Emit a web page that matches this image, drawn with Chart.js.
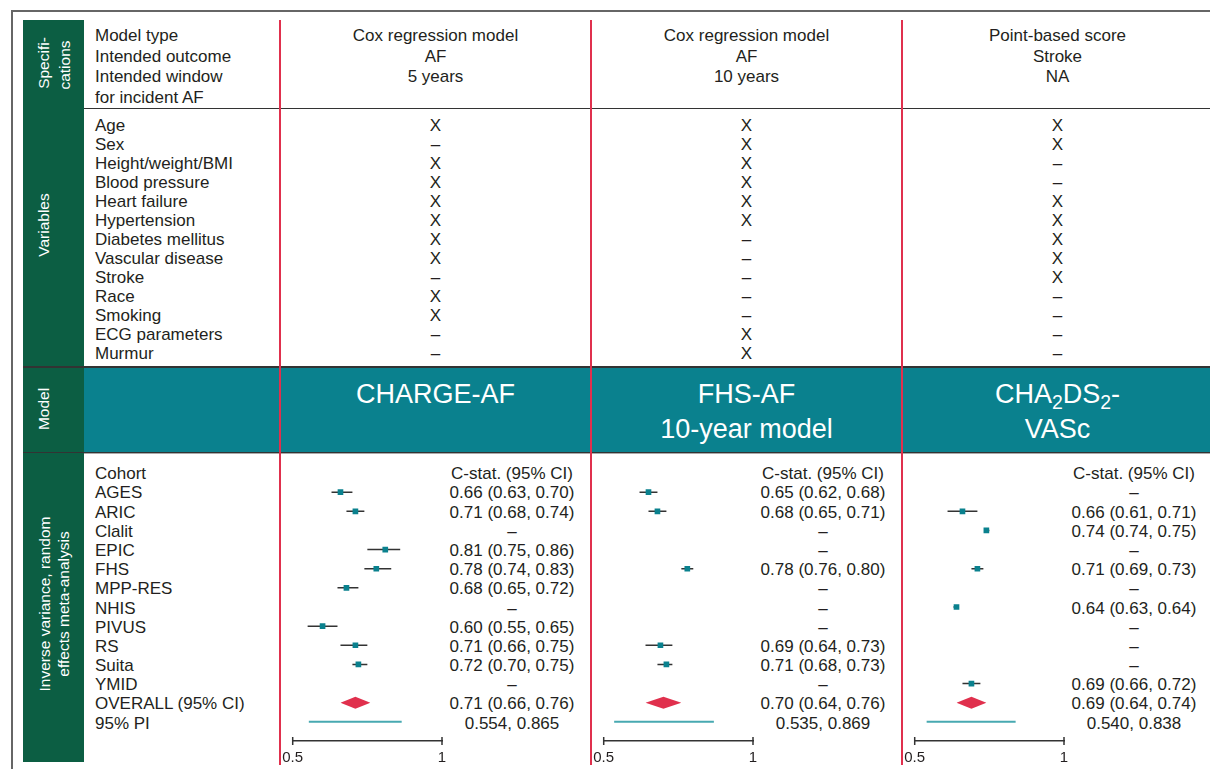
<!DOCTYPE html>
<html>
<head>
<meta charset="utf-8">
<script src="https://cdn.jsdelivr.net/npm/chart.js@4.4.1/dist/chart.umd.min.js"></script>
<style>
body{margin:0;width:1210px;height:769px;position:relative;overflow:hidden;background:#fff;font-family:"Liberation Sans",Arial,Helvetica,sans-serif;color:#231f20;}
.t{position:absolute;white-space:nowrap;}
.r{position:absolute;white-space:nowrap;color:#fff;font-size:15.5px;transform:translate(-50%,-50%) rotate(-90deg);}
.box{position:absolute;}
sub{font-size:0.72em;vertical-align:-0.3em;line-height:0;}
</style>
</head>
<body>
<script>
// ---- data ----
var specLabels=["Model type","Intended outcome","Intended window","for incident AF"];
var modelNames=["CHARGE-AF","FHS-AF<br>10-year model","CHA<sub>2</sub>DS<sub>2</sub>-<br>VASc"];
var specCharge=["Cox regression model","AF","5 years"];
var specFhs=["Cox regression model","AF","10 years"];
var specChads=["Point-based score","Stroke","NA"];

var variableNames=["Age","Sex","Height/weight/BMI","Blood pressure","Heart failure","Hypertension","Diabetes mellitus","Vascular disease","Stroke","Race","Smoking","ECG parameters","Murmur"];
var varsCharge=[1,0,1,1,1,1,1,1,0,1,1,0,0];
var varsFhs=[1,1,1,1,1,1,0,0,0,0,0,1,1];
var varsChads=[1,1,0,0,1,1,1,1,1,0,0,0,0];

var cohorts=["AGES","ARIC","Clalit","EPIC","FHS","MPP-RES","NHIS","PIVUS","RS","Suita","YMID"];
var chargeEst=[0.66,0.71,null,0.81,0.78,0.68,null,0.60,0.71,0.72,null];
var chargeLo=[0.63,0.68,null,0.75,0.74,0.65,null,0.55,0.66,0.70,null];
var chargeHi=[0.70,0.74,null,0.86,0.83,0.72,null,0.65,0.75,0.75,null];
var chargeOverall=[0.71,0.66,0.76];
var chargePI=[0.554,0.865];

var fhsEst=[0.65,0.68,null,null,0.78,null,null,null,0.69,0.71,null];
var fhsLo=[0.62,0.65,null,null,0.76,null,null,null,0.64,0.68,null];
var fhsHi=[0.68,0.71,null,null,0.80,null,null,null,0.73,0.73,null];
var fhsOverall=[0.70,0.64,0.76];
var fhsPI=[0.535,0.869];

var chadsEst=[null,0.66,0.74,null,0.71,null,0.64,null,null,null,0.69];
var chadsLo=[null,0.61,0.74,null,0.69,null,0.63,null,null,null,0.66];
var chadsHi=[null,0.71,0.75,null,0.73,null,0.64,null,null,null,0.72];
var chadsOverall=[0.69,0.64,0.74];
var chadsPI=[0.540,0.838];

var xTicks=[0.5,1];

// ---- layout helpers ----
var TEAL="#0a818e", GREEN="#0c5e43", RED="#e0304d", DARK="#333";
var panelLeft=[280,591,902];
var panelW=311;

function box(x,y,w,h,color){
    var d=document.createElement("div");
    d.className="box";
    d.style.left=x+"px";d.style.top=y+"px";d.style.width=w+"px";d.style.height=h+"px";
    d.style.background=color;
    document.body.appendChild(d);
    return d;
}
function text(html,x,y,align,size,color){
    var d=document.createElement("div");
    d.className="t";
    d.innerHTML=html;
    d.style.fontSize=size+"px";
    d.style.lineHeight="24px";
    d.style.top=(y-11)+"px";
    if(color) d.style.color=color;
    if(align==="center"){
        d.style.left=(x-160)+"px";d.style.width="320px";d.style.textAlign="center";
    }else{
        d.style.left=x+"px";
    }
    document.body.appendChild(d);
}
function rot(str,x,y){
    var d=document.createElement("div");
    d.className="r";
    d.innerText=str;
    d.style.left=x+"px";d.style.top=y+"px";
    document.body.appendChild(d);
}

// tick marks on both sides of the axis line, like the source figure
var tickMarks={
    id:"tickMarks",
    afterDraw:function(chart){
        var xs=chart.scales.x, ctx=chart.ctx, yb=chart.chartArea.bottom;
        ctx.save();
        ctx.strokeStyle=DARK;ctx.lineWidth=1.5;
        xTicks.forEach(function(v){
            var px=xs.getPixelForValue(v);
            ctx.beginPath();ctx.moveTo(px,yb-4);ctx.lineTo(px,yb+4);ctx.stroke();
        });
        ctx.restore();
    }
};

// frame + bands
box(11,10,1199,1.5,"#666");
box(11,10,1.5,759,"#666");
box(23,20,61,742,GREEN);
box(84,367,1126,85,TEAL);
box(84,107.5,1126,1.5,DARK);
box(23,366,1187,1.5,DARK);
box(23,451.5,1187,1.5,DARK);
box(84,453,1126,1,"#aaa");
panelLeft.forEach(function(x){ box(x-0.75,20,1.5,745,RED); });

// sidebar labels
rot("Specifi-",44,63);
rot("cations",65,65);
rot("Variables",44,225);
rot("Model",44,409);
rot("Inverse variance, random",45,604);
rot("effects meta-analysis",64,604);

// specifications
var specs=[specCharge,specFhs,specChads];
specLabels.forEach(function(s,i){ text(s,95,35+i*20.7,"left",17); });
specs.forEach(function(sp,k){
    var cx=panelLeft[k]+panelW/2;
    sp.forEach(function(s,i){ text(s,cx,35+i*20.7,"center",17); });
});

// variables
var vars=[varsCharge,varsFhs,varsChads];
variableNames.forEach(function(v,i){
    var y=124.5+i*19.0;
    text(v,95,y,"left",17);
    vars.forEach(function(vv,k){
        text(vv[i]?"X":"\u2013",panelLeft[k]+panelW/2,y,"center",17);
    });
});

// model banner
modelNames.forEach(function(m,k){
    var d=document.createElement("div");
    d.className="t";
    d.innerHTML=m;
    d.style.color="#fff";
    d.style.fontSize="27px";
    d.style.lineHeight="35px";
    d.style.textAlign="center";
    d.style.left=panelLeft[k]+"px";
    d.style.width=panelW+"px";
    d.style.top=(394-17.5)+"px";
    document.body.appendChild(d);
});

// cohort labels
var rowY0=473.3, rowH=19.18;
text("Cohort",95,rowY0,"left",17);
cohorts.forEach(function(c,i){ text(c,95,rowY0+(i+1)*rowH,"left",17); });
text("OVERALL (95% CI)",95,rowY0+12*rowH,"left",17);
text("95% PI",95,rowY0+13*rowH,"left",17);

function fmt(e,l,h){ return e.toFixed(2)+" ("+l.toFixed(2)+", "+h.toFixed(2)+")"; }

function panel(k,est,lo,hi,overall,pi){
    var cx=panelLeft[k]+panelW/2+76.5;
    text("C-stat. (95% CI)",cx,rowY0,"center",17);
    est.forEach(function(e,i){
        text(e==null?"\u2013":fmt(e,lo[i],hi[i]),cx,rowY0+(i+1)*rowH,"center",17);
    });
    text(fmt(overall[0],overall[1],overall[2]),cx,rowY0+12*rowH,"center",17);
    text(pi[0].toFixed(3)+", "+pi[1].toFixed(3),cx,rowY0+13*rowH,"center",17);

    var wrap=document.createElement("div");
    wrap.style.position="absolute";
    wrap.style.left=(panelLeft[k]+2)+"px";
    wrap.style.top="470px";
    wrap.style.width="172px";
    wrap.style.height="299px";
    var cv=document.createElement("canvas");
    wrap.appendChild(cv);
    document.body.appendChild(wrap);

    var datasets=[];
    var squares=[];
    est.forEach(function(e,i){
        if(e==null) return;
        squares.push({x:e,y:i+1});
        datasets.push({type:"line",data:[{x:lo[i],y:i+1},{x:hi[i],y:i+1}],borderColor:DARK,borderWidth:1.5,pointRadius:0,order:2});
    });
    datasets.unshift({type:"scatter",data:squares,pointStyle:"rect",pointRadius:4,backgroundColor:TEAL,borderWidth:0,order:0});
    var dh=0.31;
    datasets.push({type:"line",data:[{x:overall[1],y:12},{x:overall[0],y:12-dh},{x:overall[2],y:12}],borderWidth:0,pointRadius:0,backgroundColor:RED,fill:false,order:3});
    datasets.push({type:"line",data:[{x:overall[1],y:12},{x:overall[0],y:12+dh},{x:overall[2],y:12}],borderWidth:0,pointRadius:0,backgroundColor:RED,fill:"-1",order:3});
    datasets.push({type:"line",data:[{x:pi[0],y:13},{x:pi[1],y:13}],borderColor:"#47a9b1",borderWidth:2,pointRadius:0,order:2});

    new Chart(cv,{
        type:"scatter",
        data:{datasets:datasets},
        plugins:[tickMarks],
        options:{
            responsive:true,
            maintainAspectRatio:false,
            animation:false,
            layout:{padding:{left:10.7,right:12,top:12.6,bottom:4}},
            plugins:{legend:{display:false},tooltip:{enabled:false}},
            scales:{
                x:{
                    type:"linear",min:0.5,max:1,
                    afterBuildTicks:function(s){ s.ticks=xTicks.map(function(v){return {value:v};}); },
                    afterFit:function(s){ s.height=24; },
                    grid:{drawOnChartArea:false,drawTicks:true,tickLength:8,color:"rgba(0,0,0,0)"},
                    border:{display:true,color:DARK,width:1.5},
                    ticks:{color:"#231f20",padding:0,font:{family:"Liberation Sans",size:15},maxRotation:0,
                        callback:function(v){ return String(v); }}
                },
                y:{type:"linear",reverse:true,min:0.5,max:14,display:false}
            }
        }
    });
}

panel(0,chargeEst,chargeLo,chargeHi,chargeOverall,chargePI);
panel(1,fhsEst,fhsLo,fhsHi,fhsOverall,fhsPI);
panel(2,chadsEst,chadsLo,chadsHi,chadsOverall,chadsPI);
</script>
</body>
</html>
